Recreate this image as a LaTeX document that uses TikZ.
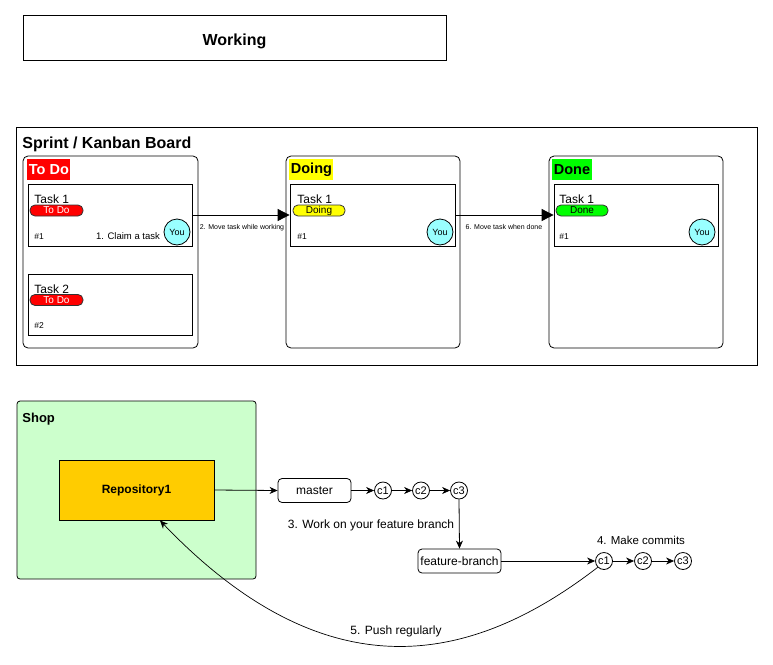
\documentclass[tikz,border=0pt]{standalone}
\usepackage{fontspec}
\setmainfont{Liberation Sans}
\usetikzlibrary{arrows.meta}
\definecolor{youc}{HTML}{99FFFF}
\definecolor{shopc}{HTML}{CCFFCC}
\definecolor{repoc}{HTML}{FFCC00}
\definecolor{todoc}{HTML}{FF0000}
\definecolor{doingc}{HTML}{FFFF00}
\definecolor{donec}{HTML}{00FF00}
\begin{document}
\begin{tikzpicture}[x=1pt,y=-1pt,line width=0.8pt,
  fs/.style={font=\fontsize{#1}{#1}\selectfont},
  fsb/.style={font=\fontsize{#1}{#1}\selectfont\bfseries},
  plainbox/.style={draw,inner sep=0pt},
  colbox/.style={draw,rounded corners=5pt,inner sep=0pt},
  card/.style={draw,fill=white,inner sep=0pt,minimum width=164pt,minimum height=62pt},
  header/.style={anchor=north west,inner xsep=1.5pt,inner ysep=0pt,minimum height=21pt,fsb=14.5},
  pill/.style={draw=black!80,rounded corners=5pt,inner sep=0pt,minimum height=11pt,fs=10},
  you/.style={circle,draw,fill=youc,inner sep=0pt,minimum size=26pt,fs=9},
  commit/.style={circle,draw,inner sep=0pt,minimum size=17pt,fs=11},
  gitbox/.style={draw,rounded corners=4pt,inner sep=0pt,minimum height=24pt,fs=12},
  txt/.style={inner sep=0pt},
  bigarrow/.style={-{Triangle[length=12pt,width=12pt]}},
  gitarrow/.style={-{Stealth[length=8pt,width=7pt,inset=2.5pt]}}]
\useasboundingbox (0,0) rectangle (773,664);

% Working
\node[plainbox,minimum width=423pt,minimum height=45pt] (working) at (234.5,37.5) {};
\node[txt,anchor=base,fsb=16] (workingtext) at (234.5,45) {Working};

% Sprint board
\node[plainbox,minimum width=741pt,minimum height=238pt] (board) at (386.5,246) {};
\node[txt,anchor=base west,fsb=16] (boardtitle) at (22,148) {Sprint / Kanban Board};

% Columns
\node[colbox,minimum width=175pt,minimum height=192pt] (coltodo) at (110.5,252) {};
\node[colbox,minimum width=174pt,minimum height=192pt] (coldoing) at (373,252) {};
\node[colbox,minimum width=174pt,minimum height=192pt] (coldone) at (636,252) {};

\node[header,fill=todoc,text=white] (htodo) at (27,159) {To Do};
\node[header,fill=doingc] (hdoing) at (289,159) {Doing};
\node[header,fill=donec] (hdone) at (552,159) {Done};

% To Do task 1
\node[card] (t1todo) at (110,215) {};
\node[txt,anchor=base west,fs=12] (t1todotitle) at (34,203) {Task 1};
\node[pill,fill=todoc,text=white,minimum width=53pt] (t1todopill) at (56.5,210.5) {To Do};
\node[txt,anchor=base west,fs=8.5] (t1todonum) at (34,239.5) {\#1};
\node[txt,anchor=base,fs=9.5] (claim) at (128,239.5) {1. Claim a task};
\node[you] (t1todoyou) at (177,232) {You};

% To Do task 2
\node[card,minimum height=61pt] (t2todo) at (110,304.5) {};
\node[txt,anchor=base west,fs=12] (t2todotitle) at (34,293) {Task 2};
\node[pill,fill=todoc,text=white,minimum width=53pt] (t2todopill) at (56.5,300) {To Do};
\node[txt,anchor=base west,fs=8.5] (t2todonum) at (34,328.5) {\#2};

% Doing task 1
\node[card,minimum width=165pt] (t1doing) at (372.5,215) {};
\node[txt,anchor=base west,fs=12] (t1doingtitle) at (297,203) {Task 1};
\node[pill,fill=doingc,minimum width=52pt] (t1doingpill) at (319,210.5) {Doing};
\node[txt,anchor=base west,fs=8.5] (t1doingnum) at (297,239.5) {\#1};
\node[you] (t1doingyou) at (440,232) {You};

% Done task 1
\node[card,minimum width=164pt] (t1done) at (636,215) {};
\node[txt,anchor=base west,fs=12] (t1donetitle) at (559,203) {Task 1};
\node[pill,fill=donec,minimum width=52pt] (t1donepill) at (582,210.5) {Done};
\node[txt,anchor=base west,fs=8.5] (t1donenum) at (559,239.5) {\#1};
\node[you] (t1doneyou) at (702,232) {You};

% Board arrows
\draw[bigarrow] (t1todo.east) -- (t1doing.west);
\node[txt,fs=7] (lbl2) at (242,228) {2. Move task while working};
\draw[bigarrow] (t1doing.east) -- (t1done.west);
\node[txt,fs=7] (lbl6) at (504,227) {6. Move task when done};

% Shop
\node[draw,fill=shopc,rounded corners=3pt,inner sep=0pt,minimum width=239pt,minimum height=178pt] (shop) at (136.5,490) {};
\node[txt,anchor=base west,fsb=13] (shoptitle) at (22,422) {Shop};
\node[draw,fill=repoc,inner sep=0pt,minimum width=155pt,minimum height=60pt,fsb=12] (repo) at (136.5,490) {Repository1};
\coordinate (pushend) at (160,520.5);

% Git
\node[gitbox,minimum width=73pt] (master) at (314.5,490.5) {master};
\node[commit] (c1) at (383,490.5) {c1};
\node[commit] (c2) at (421,490.5) {c2};
\node[commit] (c3) at (459,490.5) {c3};
\node[gitbox,minimum width=83pt] (fb) at (459.5,561) {feature-branch};
\node[commit] (d1) at (604,561) {c1};
\node[commit] (d2) at (643,561) {c2};
\node[commit] (d3) at (683,561) {c3};

\draw[gitarrow] (repo.east) -- (master.west);
\draw[gitarrow] (master.east) -- (c1.west);
\draw[gitarrow] (c1.east) -- (c2.west);
\draw[gitarrow] (c2.east) -- (c3.west);
\draw[gitarrow] (c3.south) -- (fb.north);
\draw[gitarrow] (fb.east) -- (d1.west);
\draw[gitarrow] (d1.east) -- (d2.west);
\draw[gitarrow] (d2.east) -- (d3.west);
\draw[gitarrow,line width=0.7pt] (d1.225) .. controls (475,662) and (330,698) .. (pushend);

\node[txt,fs=12] (lbl3) at (371,525) {3. Work on your feature branch};
\node[txt,fs=11.5] (lbl4) at (641,540) {4. Make commits};
\node[txt,fs=12] (lbl5) at (396,631) {5. Push regularly};
\end{tikzpicture}
\end{document}
